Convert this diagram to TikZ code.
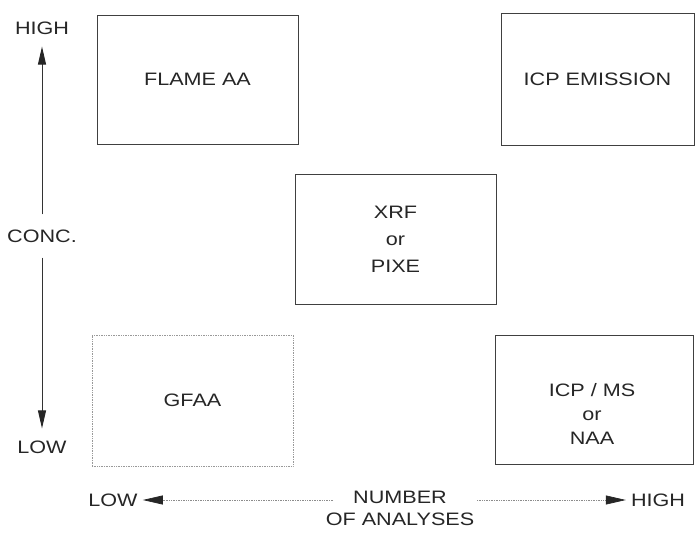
\documentclass[tikz,border=0pt]{standalone}
\usepackage{fontspec}
\setmainfont{Liberation Sans}[FakeStretch=1.2]
\usetikzlibrary{arrows.meta}
\begin{document}
\begin{tikzpicture}[x=1pt,y=-1pt,
  every node/.style={font=\fontsize{18}{22}\selectfont, text=black!85},
  box/.style={draw=black!75, line width=0.9pt, inner sep=0pt, align=center},
  lightbox/.style={box, draw=black!40, line width=0.7pt, densely dotted},
  lbl/.style={inner sep=0pt, align=center},
  vline/.style={draw=black!80, line width=1pt, -{Triangle[length=18pt,width=8pt,color=black!85]}},
  hline/.style={draw=black!45, line width=0.7pt, densely dotted, -{Triangle[length=20pt,width=9pt,color=black!85]}, shorten >=5pt}]
\useasboundingbox (0,0) rectangle (696,534);
\fill[white] (0,0) rectangle (696,534);

% boxes
\node[box, minimum width=201pt, minimum height=129pt] (flame) at (197.5,79.5) {FLAME AA};
\node[box, minimum width=193pt, minimum height=132pt] (icpe) at (597.5,79) {ICP EMISSION};
\node[box, minimum width=201pt, minimum height=130pt, font=\fontsize{18}{27}\selectfont] (xrf) at (395.5,239) {XRF\\or\\PIXE};
\node[lightbox, minimum width=201pt, minimum height=131pt] (gfaa) at (192.5,400.5) {GFAA};
\node[box, minimum width=198pt, minimum height=129pt] (icpms) at (594,399.5) {};
\node[lbl, font=\fontsize{18}{24}\selectfont] (icpmstxt) at (592,414) {ICP / MS\\or\\NAA};

% vertical axis
\node[lbl] (vhigh) at (42,28) {HIGH};
\node[lbl, minimum height=43pt] (conc) at (42,236) {CONC.};
\node[lbl] (vlow) at (42,447) {LOW};
\draw[vline, shorten >=12pt] (conc) -- (vhigh);
\draw[vline, shorten >=12pt] (conc) -- (vlow);

% horizontal axis
\node[lbl] (hlow) at (113,500) {LOW};
\node[lbl] (num) at (400,508) {NUMBER\\OF ANALYSES};
\node[lbl] (hhigh) at (658,500) {HIGH};
\coordinate (hl) at (333,500);
\coordinate (hr) at (477,500);
\draw[hline] (hl) -- (hlow);
\draw[hline] (hr) -- (hhigh);
\end{tikzpicture}
\end{document}
